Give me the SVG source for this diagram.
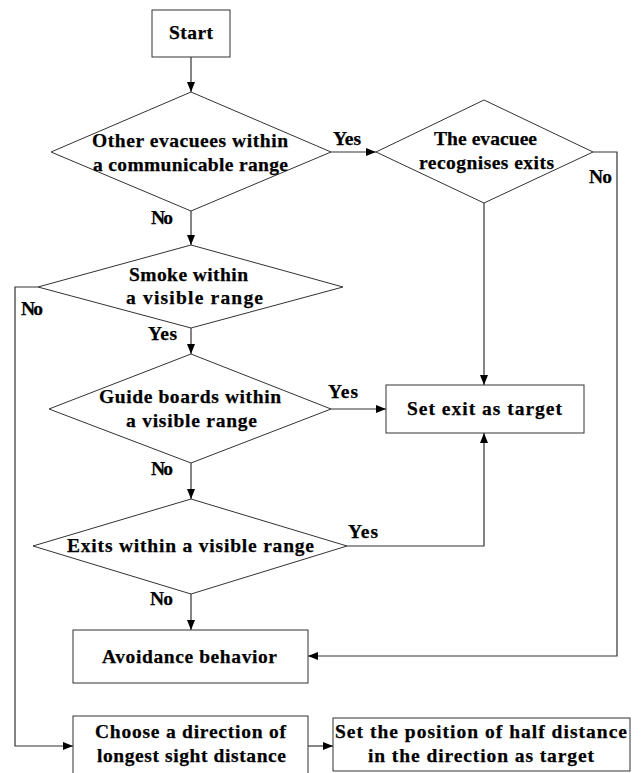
<svg xmlns="http://www.w3.org/2000/svg" width="644" height="773" viewBox="0 0 644 773">
<style>
.shape{fill:#fff;stroke:#333;stroke-width:1}
.conn{fill:none;stroke:#333;stroke-width:1.2}
.t{font-family:"Liberation Serif","Times New Roman",serif;font-weight:bold;font-size:19.5px;fill:#000;stroke:#000;stroke-width:0.25}
</style>
<defs>
<marker id="arr" markerUnits="userSpaceOnUse" markerWidth="10" markerHeight="8" refX="10" refY="4" orient="auto">
<path d="M0,0 L10,4 L0,8 z" fill="#000"/>
</marker>
</defs>
<rect width="644" height="773" fill="#fff"/>
<g id="connectors">
<line class="conn" x1="191" y1="57" x2="191" y2="92" marker-end="url(#arr)"/>
<line class="conn" x1="331" y1="152" x2="376" y2="152" marker-end="url(#arr)"/>
<line class="conn" x1="484" y1="203" x2="484" y2="385" marker-end="url(#arr)"/>
<polyline class="conn" points="593,152 617,152 617,656 308,656" marker-end="url(#arr)"/>
<line class="conn" x1="191" y1="211" x2="191" y2="245" marker-end="url(#arr)"/>
<polyline class="conn" points="38,287 15,287 15,746 73,746" marker-end="url(#arr)"/>
<line class="conn" x1="191" y1="328" x2="191" y2="354" marker-end="url(#arr)"/>
<line class="conn" x1="331" y1="409" x2="386" y2="409" marker-end="url(#arr)"/>
<line class="conn" x1="191" y1="463" x2="191" y2="499" marker-end="url(#arr)"/>
<polyline class="conn" points="347,546 484,546 484,433" marker-end="url(#arr)"/>
<line class="conn" x1="191" y1="594" x2="191" y2="630" marker-end="url(#arr)"/>
<line class="conn" x1="308" y1="746" x2="333" y2="746" marker-end="url(#arr)"/>
<text class="t" x="333" y="145" textLength="28">Yes</text>
<text class="t" x="589" y="183" textLength="23">No</text>
<text class="t" x="151" y="224" textLength="22">No</text>
<text class="t" x="21" y="315" textLength="22">No</text>
<text class="t" x="148" y="340" textLength="29">Yes</text>
<text class="t" x="328" y="398" textLength="30">Yes</text>
<text class="t" x="151" y="475" textLength="22">No</text>
<text class="t" x="348" y="538" textLength="30">Yes</text>
<text class="t" x="150" y="605" textLength="23">No</text>
</g>
<g id="start">
<rect class="shape" x="152" y="10" width="78" height="47"/>
<text class="t" x="169" y="39" textLength="44">Start</text>
</g>
<g id="d-others">
<polygon class="shape" points="191,92 331,152 191,211 51,152"/>
<text class="t" x="92" y="147" textLength="196">Other  evacuees within</text>
<text class="t" x="93" y="171" textLength="195">a communicable range</text>
</g>
<g id="d-recognise">
<polygon class="shape" points="484,100 593,152 484,203 376,152"/>
<text class="t" x="434" y="145" textLength="103">The evacuee</text>
<text class="t" x="419" y="169" textLength="135">recognises  exits</text>
</g>
<g id="d-smoke">
<polygon class="shape" points="191,245 343,287 191,328 38,287"/>
<text class="t" x="129" y="281" textLength="119">Smoke within</text>
<text class="t" x="126" y="304" textLength="137">a visible  range</text>
</g>
<g id="d-guide">
<polygon class="shape" points="191,354 331,409 191,463 49,409"/>
<text class="t" x="99" y="403" textLength="182">Guide boards within</text>
<text class="t" x="126" y="427" textLength="131">a visible range</text>
</g>
<g id="set-exit">
<rect class="shape" x="386" y="385" width="198" height="48"/>
<text class="t" x="407" y="415" textLength="155">Set exit as target</text>
</g>
<g id="d-exits">
<polygon class="shape" points="191,499 347,546 191,594 33,546"/>
<text class="t" x="67" y="552" textLength="247">Exits within a visible range</text>
</g>
<g id="avoidance">
<rect class="shape" x="73" y="630" width="235" height="53"/>
<text class="t" x="102" y="663" textLength="175">Avoidance behavior</text>
</g>
<g id="choose">
<rect class="shape" x="73" y="716" width="235" height="70"/>
<text class="t" x="95" y="738" textLength="191">Choose a direction of</text>
<text class="t" x="97" y="762" textLength="189">longest sight distance</text>
</g>
<g id="set-position">
<rect class="shape" x="333" y="718" width="297" height="53"/>
<text class="t" x="335" y="738" textLength="292">Set the position of half distance</text>
<text class="t" x="368" y="762" textLength="226">in the direction as target</text>
</g>
</svg>
